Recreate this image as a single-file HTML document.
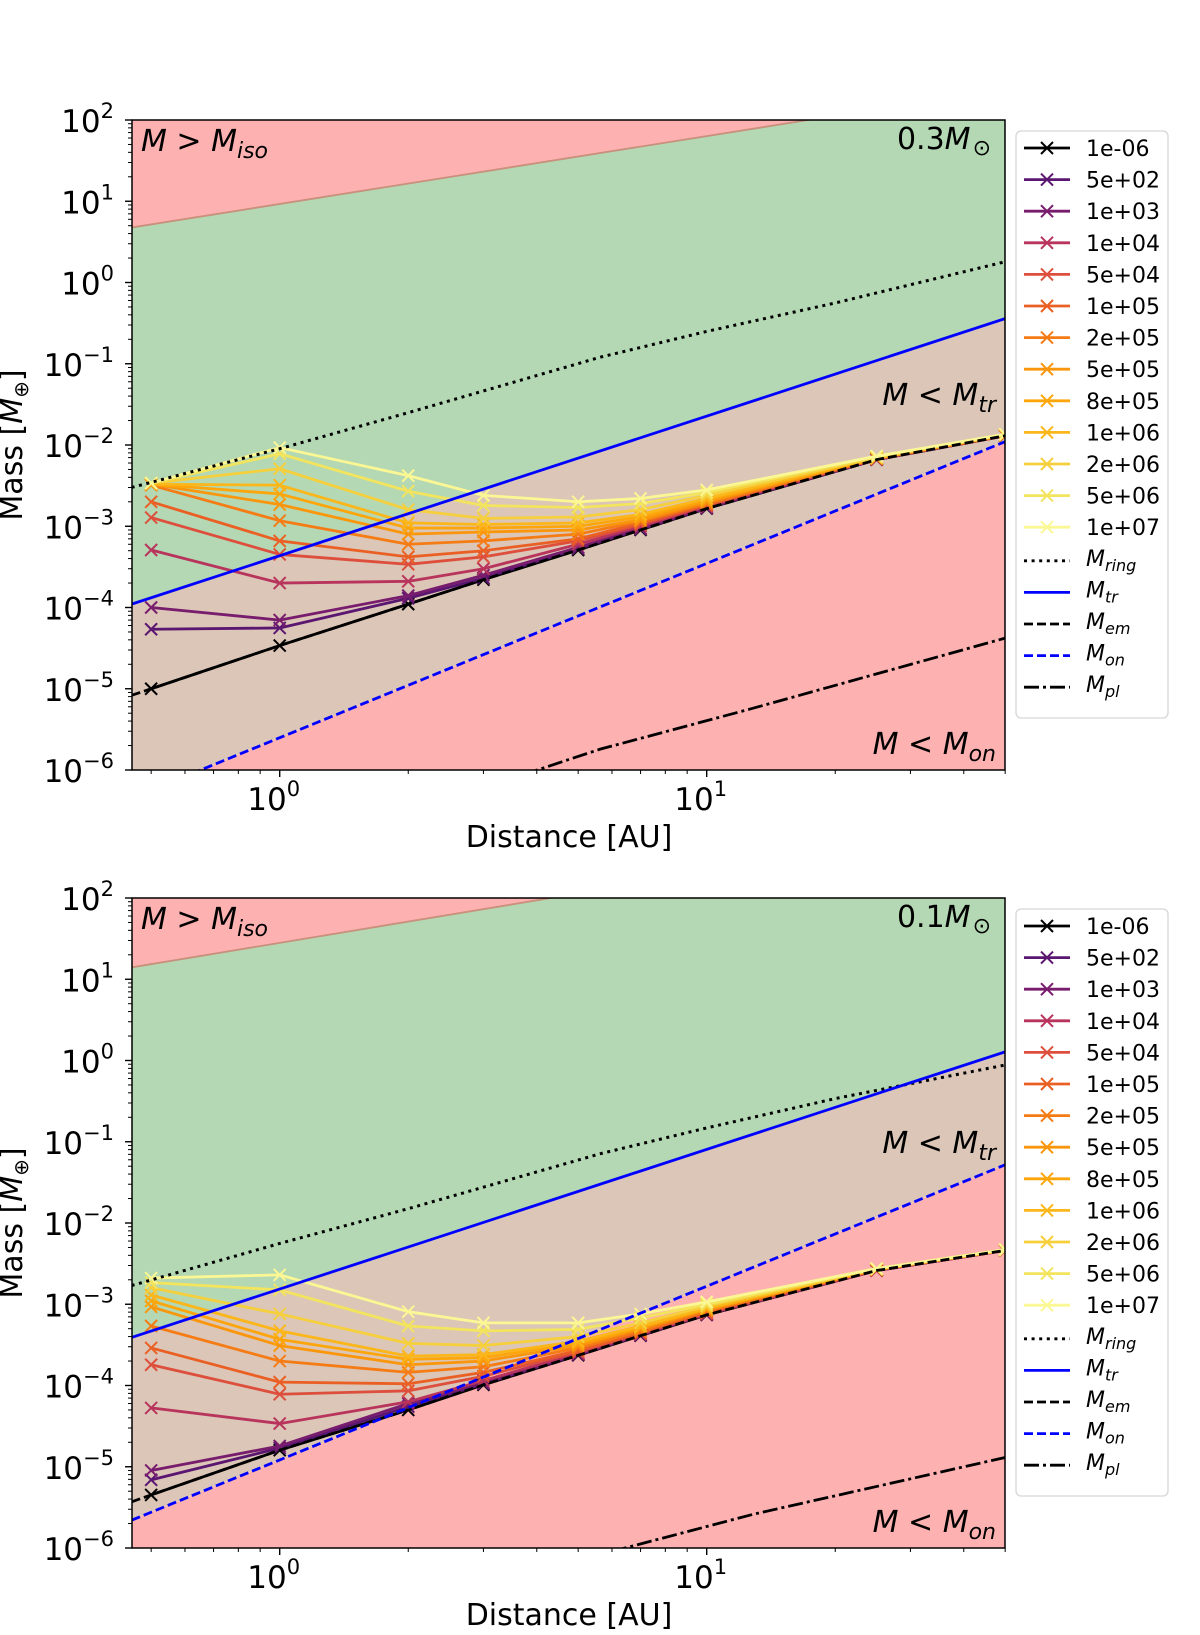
<!DOCTYPE html>
<html><head><meta charset="utf-8"><style>
html,body{margin:0;padding:0;background:#fff;}
svg{display:block;font-family:"DejaVu Sans","Liberation Sans",sans-serif;}
</style></head><body>
<svg id="fig" width="1200" height="1635" viewBox="0 0 1200 1635" xmlns="http://www.w3.org/2000/svg"></svg>
<script>
// ---- data ----
const distances = [0.5, 1, 2, 3, 5, 7, 10, 25, 50];
const seriesLabels = ["1e-06","5e+02","1e+03","1e+04","5e+04","1e+05","2e+05","5e+05","8e+05","1e+06","2e+06","5e+06","1e+07"];
const seriesColors = ["#000000","#5a1670","#781c6d","#b8345c","#dd4f3c","#ea6024","#f57c15","#fa960c","#fca60c","#fbb61a","#f6cf3c","#f3e45d","#fbf794"];
const topSeries = [
 [1e-5,3.4e-5,1.1e-4,2.2e-4,5.1e-4,9e-4,1.65e-3,6.6e-3,1.3e-2],
 [5.4e-5,5.6e-5,1.3e-4,2.3e-4,5.3e-4,9.2e-4,1.67e-3,6.6e-3,1.3e-2],
 [1e-4,7e-5,1.4e-4,2.5e-4,5.5e-4,9.4e-4,1.7e-3,6.6e-3,1.3e-2],
 [5.1e-4,2e-4,2.1e-4,3e-4,6e-4,1e-3,1.75e-3,6.7e-3,1.3e-2],
 [1.28e-3,4.5e-4,3.4e-4,4.2e-4,6.6e-4,1.05e-3,1.8e-3,6.7e-3,1.3e-2],
 [2e-3,6.6e-4,4.2e-4,5e-4,7e-4,1.1e-3,1.85e-3,6.8e-3,1.3e-2],
 [3.2e-3,1.17e-3,6e-4,6.6e-4,8e-4,1.15e-3,1.9e-3,6.8e-3,1.32e-2],
 [3.3e-3,1.85e-3,8e-4,8.5e-4,9e-4,1.2e-3,2e-3,6.9e-3,1.32e-2],
 [3.3e-3,2.5e-3,9.5e-4,9.5e-4,1e-3,1.3e-3,2.1e-3,6.9e-3,1.33e-2],
 [3.3e-3,3.2e-3,1.1e-3,1.05e-3,1.1e-3,1.4e-3,2.2e-3,7e-3,1.33e-2],
 [3.4e-3,5.1e-3,1.6e-3,1.25e-3,1.3e-3,1.6e-3,2.4e-3,7e-3,1.34e-2],
 [3.4e-3,7.8e-3,2.7e-3,1.8e-3,1.7e-3,1.9e-3,2.6e-3,7.2e-3,1.35e-2],
 [3.4e-3,9.3e-3,4.2e-3,2.4e-3,2e-3,2.2e-3,2.8e-3,7.3e-3,1.36e-2]
];
const bottomSeries = [
 [4.5e-6,1.6e-5,5e-5,1.02e-4,2.35e-4,4.1e-4,7.4e-4,2.6e-3,4.6e-3],
 [6.9e-6,1.7e-5,5.5e-5,1.05e-4,2.4e-4,4.15e-4,7.5e-4,2.6e-3,4.6e-3],
 [9e-6,1.8e-5,6e-5,1.08e-4,2.45e-4,4.2e-4,7.5e-4,2.6e-3,4.6e-3],
 [5.3e-5,3.4e-5,6.3e-5,1.15e-4,2.5e-4,4.3e-4,7.6e-4,2.6e-3,4.6e-3],
 [1.8e-4,7.8e-5,8.6e-5,1.3e-4,2.6e-4,4.4e-4,7.8e-4,2.65e-3,4.6e-3],
 [2.9e-4,1.1e-4,1.05e-4,1.45e-4,2.7e-4,4.5e-4,8e-4,2.65e-3,4.6e-3],
 [5.4e-4,2e-4,1.45e-4,1.7e-4,2.9e-4,4.7e-4,8.3e-4,2.65e-3,4.65e-3],
 [9.3e-4,3.1e-4,1.8e-4,2e-4,3.1e-4,5e-4,8.6e-4,2.7e-3,4.65e-3],
 [1.1e-3,3.7e-4,2.1e-4,2.2e-4,3.3e-4,5.2e-4,8.8e-4,2.7e-3,4.65e-3],
 [1.3e-3,4.7e-4,2.3e-4,2.4e-4,3.5e-4,5.4e-4,9e-4,2.7e-3,4.65e-3],
 [1.6e-3,7.6e-4,3.3e-4,3.1e-4,4e-4,5.9e-4,9.5e-4,2.7e-3,4.7e-3],
 [1.85e-3,1.5e-3,5.4e-4,4.7e-4,4.9e-4,6.8e-4,1e-3,2.75e-3,4.7e-3],
 [2.1e-3,2.3e-3,8.1e-4,5.9e-4,5.9e-4,7.6e-4,1.07e-3,2.75e-3,4.7e-3]
];
const ringA = [0.45,1,2,5.62,10,20,50];
const topRing = [3e-3,9e-3,2.5e-2,0.12,0.25,0.56,1.8];
const bottomRing = [1.7e-3,5.6e-3,1.5e-2,7.1e-2,0.148,0.34,0.88];
const lineA = [0.45,50];
const topTr = [1.1e-4,0.36];
const bottomTr = [3.9e-4,1.28];
const topOn = [4.5e-7,0.011];
const bottomOn = [2.2e-6,0.052];
const topIso = [4.75,243];
const bottomIso = [14,843];
const topPlA = [2.5,4.01,5.62,12.6,50];
const topPl = [4.3e-7,1e-6,1.8e-6,5.6e-6,4.2e-5];
const bottomPlA = [4,6.44,12.85,50];
const bottomPl = [5e-7,1e-6,2.6e-6,1.3e-5];
const memA = [0.45,0.5,1,2,3,5,7,10,25,50];
const topMem = [8.3e-6,1e-5,3.4e-5,1.1e-4,2.2e-4,5.1e-4,9e-4,1.65e-3,6.6e-3,1.3e-2];
const bottomMem = [3.7e-6,4.5e-6,1.6e-5,5e-5,1.02e-4,2.35e-4,4.1e-4,7.4e-4,2.6e-3,4.6e-3];
const yTicks = [2,1,0,-1,-2,-3,-4,-5,-6];
const xTicks = [0,1];
const xMinor = [0.5,0.6,0.7,0.8,0.9,2,3,4,5,6,7,8,9,20,30,40,50];

// ---- layout ----
const NS = "http://www.w3.org/2000/svg";
const svg = document.getElementById("fig");
const L = 132, R = 1005, H = 650;
function X(a){ return 279.7 + 427*Math.log10(a); }
function mk(tag, attrs, parent){ const e = document.createElementNS(NS, tag); for (const k in attrs) e.setAttribute(k, attrs[k]); (parent||svg).appendChild(e); return e; }
function pts(xs, ms, Y){ return xs.map((a,i)=>X(a).toFixed(2)+","+Y(ms[i]).toFixed(2)).join(" "); }

function panel(idx, top, d){
  const Y = m => top + (2 - Math.log10(m))*81.25;
  const g = mk("g", {});
  
  
  const defs = mk("defs", {}, g);
  const cp = mk("clipPath", {id:"clip"+idx}, defs);
  mk("rect", {x:L, y:top, width:R-L, height:H}, cp);
  const plot = mk("g", {"clip-path":"url(#clip"+idx+")"}, g);
  const isoP = pts(lineA, d.iso, Y), trP = pts(lineA, d.tr, Y), onP = pts(lineA, d.on, Y);
  const rev = s => s.split(" ").reverse().join(" ");
  const f1 = mk("polygon", {points: `${L},${top-50} ${R},${top-50} ${rev(isoP)}`, fill:"#fdb1b1"}, plot);
  
  
  const f2 = mk("polygon", {points: isoP + " " + rev(trP), fill:"#b3d8b3"}, plot);
  
  
  const f3 = mk("polygon", {points: trP + " " + rev(onP), fill:"#dcc6b7"}, plot);
  
  
  const f4 = mk("polygon", {points: onP + ` ${R},${top+H+50} ${L},${top+H+50}`, fill:"#fdb1b1"}, plot);
  
  
  const isoLine = mk("polyline", {points: isoP, fill:"none", stroke:"#c9907c", "stroke-width":1.8}, plot);
  
  
  d.series.forEach((vals, si) => {
    const sg = mk("g", {}, plot);
    
    
    mk("polyline", {points: pts(distances, vals, Y), fill:"none", stroke:seriesColors[si], "stroke-width":2.8, "stroke-linejoin":"round"}, sg);
    distances.forEach((a,i)=>{
      const x = X(a), y = Y(vals[i]), s = 6;
      mk("path", {d:`M${x-s},${y-s}L${x+s},${y+s}M${x-s},${y+s}L${x+s},${y-s}`, stroke:seriesColors[si], "stroke-width":2}, sg);
    });
  });
  const refs = [
    ['mring-line', ringA, d.ring, "#000", "3,4.6", 3],
    ['mtr-line', lineA, d.tr, "#0000ff", "", 2.8],
    ['mem-line', memA, d.mem, "#000", "9,4", 2.8],
    ['mon-line', lineA, d.on, "#0000ff", "9,4", 2.8],
    ['mpl-line', d.plA, d.pl, "#000", "15,4,3,4", 2.8]
  ];
  refs.forEach(r=>{
    const p = mk("polyline", {points: pts(r[1], r[2], Y), fill:"none", stroke:r[3], "stroke-width":r[5]}, plot);
    if (r[4]) p.setAttribute("stroke-dasharray", r[4]);
    
    
  });
  mk("rect", {x:L, y:top, width:R-L, height:H, fill:"none", stroke:"#000", "stroke-width":1.5}, g);
  yTicks.forEach(e=>{
    const y = top + (2-e)*81.25;
    mk("line", {x1:L-7, x2:L, y1:y, y2:y, stroke:"#000", "stroke-width":1.4}, g);
    const t = mk("text", {x:114, y:y+12, "text-anchor":"end", "font-size":31, fill:"#000"}, g);
    
    
    const t1 = mk("tspan", {}, t); t1.textContent = "10";
    const t2 = mk("tspan", {dy:-14, "font-size":21}, t); t2.textContent = (e<0 ? "\u2212" + (-e) : String(e));
    if (e > -6) for (let k=2;k<=9;k++){
      const yy = top + (2-(e-1)-Math.log10(k))*81.25;
      mk("line", {x1:L-4, x2:L, y1:yy, y2:yy, stroke:"#000", "stroke-width":1}, g);
    }
  });
  xTicks.forEach(e=>{
    const x = X(Math.pow(10,e));
    mk("line", {x1:x, x2:x, y1:top+H, y2:top+H+7, stroke:"#000", "stroke-width":1.4}, g);
    const t = mk("text", {x:x-6, y:top+H+40, "text-anchor":"middle", "font-size":31}, g);
    
    
    const t1 = mk("tspan", {}, t); t1.textContent = "10";
    const t2 = mk("tspan", {dy:-14, "font-size":21}, t); t2.textContent = String(e);
  });
  xMinor.forEach(a=>{ const x=X(a); mk("line", {x1:x, x2:x, y1:top+H, y2:top+H+4, stroke:"#000", "stroke-width":1}, g); });
  const xl = mk("text", {x:569, y:top+H+77, "text-anchor":"middle", "font-size":30}, g);
  xl.textContent = "Distance [AU]";
  
  
  const yl = mk("text", {x:0, y:0, "text-anchor":"middle", "font-size":30, transform:`translate(22,${top+H/2}) rotate(-90)`}, g);
  
  
  const a1 = mk("tspan", {}, yl); a1.textContent = "Mass [";
  const a2 = mk("tspan", {"font-style":"italic"}, yl); a2.textContent = "M";
  const a3 = mk("tspan", {"font-size":20, dy:6}, yl); a3.textContent = "\u2295";
  const a4 = mk("tspan", {dy:-6}, yl); a4.textContent = "]";
  function mlabel(x, y, anchor, main, sub, name){
    const t = mk("text", {x:x, y:y, "text-anchor":anchor, "font-size":30, "font-style":"italic"}, g);
    
    
    const s1 = mk("tspan", {}, t); s1.textContent = main;
    const s2 = mk("tspan", {"font-size":22, dy:7}, t); s2.textContent = sub;
    return t;
  }
  mlabel(141, top+31, "start", "M > M", "iso", "label-m-gt-miso");
  mlabel(996, top+d.trLabelY, "end", "M < M", "tr", "label-m-lt-mtr");
  mlabel(996, top+634, "end", "M < M", "on", "label-m-lt-mon");
  const st = mk("text", {x:991, y:top+29, "text-anchor":"end", "font-size":30}, g);
  
  
  const st1 = mk("tspan", {}, st); st1.textContent = d.mstar;
  const st2 = mk("tspan", {"font-style":"italic"}, st); st2.textContent = "M";
  const st3 = mk("tspan", {"font-size":22, dy:6, dx:2}, st); st3.textContent = "\u2299";
  const lg = mk("g", {}, g);
  
  
  mk("rect", {x:1016, y:top+11, width:152, height:587, rx:5, fill:"#fff", stroke:"#d6d6d6", "stroke-width":1.3}, lg);
  const y0 = top + 28, dy = 31.6;
  seriesLabels.forEach((lab, i)=>{
    const y = y0 + i*dy;
    const eg = mk("g", {}, lg);
    
    
    mk("line", {x1:1024, x2:1070, y1:y, y2:y, stroke:seriesColors[i], "stroke-width":2.8}, eg);
    mk("path", {d:`M1041,${y-6}L1053,${y+6}M1041,${y+6}L1053,${y-6}`, stroke:seriesColors[i], "stroke-width":2}, eg);
    const t = mk("text", {x:1086, y:y+8, "font-size":22}, eg); t.textContent = lab;
  });
  const refLeg = [["ring","#000","3,4.6"],["tr","#0000ff",""],["em","#000","9,4"],["on","#0000ff","9,4"],["pl","#000","15,4,3,4"]];
  refLeg.forEach((r,j)=>{
    const y = y0 + (13+j)*dy + 2;
    const eg = mk("g", {}, lg);
    
    
    const l = mk("line", {x1:1024, x2:1070, y1:y, y2:y, stroke:r[1], "stroke-width":2.8}, eg);
    if (r[2]) l.setAttribute("stroke-dasharray", r[2]);
    const t = mk("text", {x:1086, y:y+5, "font-size":22, "font-style":"italic"}, eg);
    const s1 = mk("tspan", {}, t); s1.textContent = "M";
    const s2 = mk("tspan", {"font-size":16, dy:5}, t); s2.textContent = r[0];
  });
}

panel(0, 120, {series:topSeries, ring:topRing, tr:topTr, on:topOn, iso:topIso, plA:topPlA, pl:topPl, mem:topMem, mstar:"0.3", trLabelY:285});
panel(1, 898, {series:bottomSeries, ring:bottomRing, tr:bottomTr, on:bottomOn, iso:bottomIso, plA:bottomPlA, pl:bottomPl, mem:bottomMem, mstar:"0.1", trLabelY:255});
</script>
</body></html>
